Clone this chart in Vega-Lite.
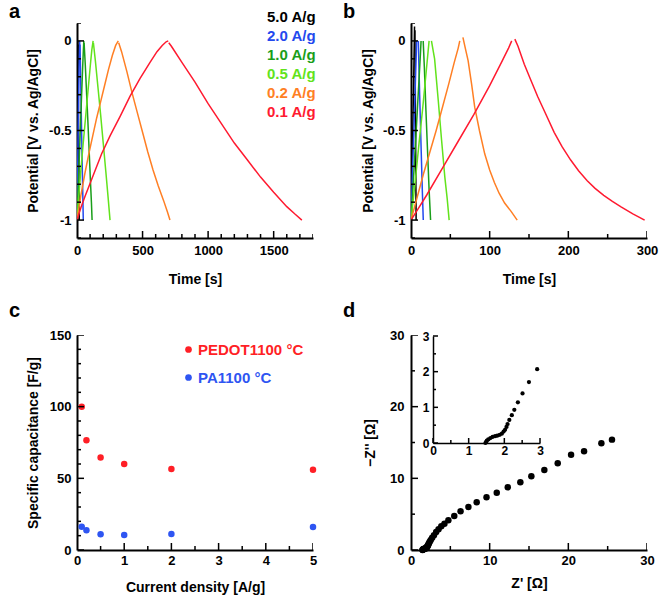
{
  "$schema": "https://vega.github.io/schema/vega-lite/v6.json",
  "padding": {"left": 9, "top": 2, "right": 5, "bottom": 5},
  "columns": 2,
  "spacing": {"row": 97, "column": 98},
  "bounds": "flush",
  "resolve": {"scale": {"color": "independent", "size": "independent"}, "legend": {"color": "independent"}},
  "config": {
    "font": "Liberation Sans",
    "view": {"stroke": null},
    "axis": {"grid": false, "zindex": 1, "domainColor": "black", "domainWidth": 2, "ticks": false, "tickSize": 0,
      "labelFont": "Liberation Sans", "labelFontSize": 13, "labelFontWeight": "bold", "labelColor": "black",
      "titleFont": "Liberation Sans", "titleFontSize": 14, "titleFontWeight": "bold", "titleColor": "black",
      "labelOverlap": false, "labelFlush": false, "labelBound": false},
    "legend": {"labelFont": "Liberation Sans", "labelFontWeight": "bold", "labelFontSize": 15, "padding": 0},
    "title": {"font": "Liberation Sans", "fontSize": 20, "fontWeight": "bold", "anchor": "start", "frame": "group", "color": "black"}
  },
  "datasets": {
    "gcdA": [
      {"r":"5.0 A/g","s":"c","t":0,"v":-1},{"r":"5.0 A/g","s":"c","t":3,"v":-0.55},{"r":"5.0 A/g","s":"c","t":6,"v":-0.05},{"r":"5.0 A/g","s":"c","t":7,"v":0},
      {"r":"5.0 A/g","s":"d","t":8,"v":-0.02},{"r":"5.0 A/g","s":"d","t":11,"v":-0.4},{"r":"5.0 A/g","s":"d","t":14,"v":-0.75},{"r":"5.0 A/g","s":"d","t":17,"v":-1},
      {"r":"2.0 A/g","s":"c","t":0,"v":-1},{"r":"2.0 A/g","s":"c","t":4,"v":-0.78},{"r":"2.0 A/g","s":"c","t":10,"v":-0.45},{"r":"2.0 A/g","s":"c","t":16,"v":-0.15},{"r":"2.0 A/g","s":"c","t":21,"v":0},
      {"r":"2.0 A/g","s":"d","t":23,"v":-0.02},{"r":"2.0 A/g","s":"d","t":29,"v":-0.25},{"r":"2.0 A/g","s":"d","t":35,"v":-0.5},{"r":"2.0 A/g","s":"d","t":41,"v":-0.74},{"r":"2.0 A/g","s":"d","t":48,"v":-1},
      {"r":"1.0 A/g","s":"c","t":0,"v":-1},{"r":"1.0 A/g","s":"c","t":5,"v":-0.9},{"r":"1.0 A/g","s":"c","t":12,"v":-0.76},{"r":"1.0 A/g","s":"c","t":22,"v":-0.56},{"r":"1.0 A/g","s":"c","t":32,"v":-0.36},{"r":"1.0 A/g","s":"c","t":42,"v":-0.17},{"r":"1.0 A/g","s":"c","t":48,"v":-0.06},{"r":"1.0 A/g","s":"c","t":52,"v":0},
      {"r":"1.0 A/g","s":"d","t":54,"v":-0.01},{"r":"1.0 A/g","s":"d","t":63,"v":-0.13},{"r":"1.0 A/g","s":"d","t":73,"v":-0.29},{"r":"1.0 A/g","s":"d","t":83,"v":-0.45},{"r":"1.0 A/g","s":"d","t":93,"v":-0.62},{"r":"1.0 A/g","s":"d","t":103,"v":-0.79},{"r":"1.0 A/g","s":"d","t":110,"v":-0.9},{"r":"1.0 A/g","s":"d","t":115,"v":-1},
      {"r":"0.5 A/g","s":"c","t":0,"v":-1},{"r":"0.5 A/g","s":"c","t":10,"v":-0.9},{"r":"0.5 A/g","s":"c","t":25,"v":-0.76},{"r":"0.5 A/g","s":"c","t":45,"v":-0.59},{"r":"0.5 A/g","s":"c","t":65,"v":-0.43},{"r":"0.5 A/g","s":"c","t":85,"v":-0.27},{"r":"0.5 A/g","s":"c","t":100,"v":-0.15},{"r":"0.5 A/g","s":"c","t":113,"v":-0.05},{"r":"0.5 A/g","s":"c","t":123,"v":0},
      {"r":"0.5 A/g","s":"d","t":125,"v":-0.01},{"r":"0.5 A/g","s":"d","t":140,"v":-0.11},{"r":"0.5 A/g","s":"d","t":160,"v":-0.26},{"r":"0.5 A/g","s":"d","t":180,"v":-0.41},{"r":"0.5 A/g","s":"d","t":200,"v":-0.57},{"r":"0.5 A/g","s":"d","t":220,"v":-0.73},{"r":"0.5 A/g","s":"d","t":238,"v":-0.88},{"r":"0.5 A/g","s":"d","t":252,"v":-1},
      {"r":"0.2 A/g","s":"c","t":0,"v":-1},{"r":"0.2 A/g","s":"c","t":15,"v":-0.93},{"r":"0.2 A/g","s":"c","t":30,"v":-0.86},{"r":"0.2 A/g","s":"c","t":60,"v":-0.74},{"r":"0.2 A/g","s":"c","t":90,"v":-0.63},{"r":"0.2 A/g","s":"c","t":120,"v":-0.53},{"r":"0.2 A/g","s":"c","t":150,"v":-0.43},{"r":"0.2 A/g","s":"c","t":180,"v":-0.34},{"r":"0.2 A/g","s":"c","t":210,"v":-0.25},{"r":"0.2 A/g","s":"c","t":240,"v":-0.16},{"r":"0.2 A/g","s":"c","t":270,"v":-0.08},{"r":"0.2 A/g","s":"c","t":295,"v":-0.025},{"r":"0.2 A/g","s":"c","t":315,"v":0},
      {"r":"0.2 A/g","s":"d","t":318,"v":-0.01},{"r":"0.2 A/g","s":"d","t":340,"v":-0.06},{"r":"0.2 A/g","s":"d","t":380,"v":-0.17},{"r":"0.2 A/g","s":"d","t":420,"v":-0.29},{"r":"0.2 A/g","s":"d","t":460,"v":-0.4},{"r":"0.2 A/g","s":"d","t":500,"v":-0.51},{"r":"0.2 A/g","s":"d","t":540,"v":-0.62},{"r":"0.2 A/g","s":"d","t":580,"v":-0.72},{"r":"0.2 A/g","s":"d","t":620,"v":-0.81},{"r":"0.2 A/g","s":"d","t":660,"v":-0.89},{"r":"0.2 A/g","s":"d","t":690,"v":-0.955},{"r":"0.2 A/g","s":"d","t":709,"v":-1},
      {"r":"0.1 A/g","s":"c","t":0,"v":-1},{"r":"0.1 A/g","s":"c","t":30,"v":-0.93},{"r":"0.1 A/g","s":"c","t":60,"v":-0.87},{"r":"0.1 A/g","s":"c","t":124,"v":-0.75},{"r":"0.1 A/g","s":"c","t":188,"v":-0.63},{"r":"0.1 A/g","s":"c","t":252,"v":-0.53},{"r":"0.1 A/g","s":"c","t":330,"v":-0.42},{"r":"0.1 A/g","s":"c","t":404,"v":-0.31},{"r":"0.1 A/g","s":"c","t":480,"v":-0.21},{"r":"0.1 A/g","s":"c","t":557,"v":-0.12},{"r":"0.1 A/g","s":"c","t":610,"v":-0.06},{"r":"0.1 A/g","s":"c","t":650,"v":-0.025},{"r":"0.1 A/g","s":"c","t":680,"v":-0.005},{"r":"0.1 A/g","s":"c","t":696,"v":0},
      {"r":"0.1 A/g","s":"d","t":700,"v":-0.01},{"r":"0.1 A/g","s":"d","t":720,"v":-0.03},{"r":"0.1 A/g","s":"d","t":800,"v":-0.12},{"r":"0.1 A/g","s":"d","t":900,"v":-0.23},{"r":"0.1 A/g","s":"d","t":1000,"v":-0.35},{"r":"0.1 A/g","s":"d","t":1100,"v":-0.46},{"r":"0.1 A/g","s":"d","t":1200,"v":-0.57},{"r":"0.1 A/g","s":"d","t":1300,"v":-0.665},{"r":"0.1 A/g","s":"d","t":1400,"v":-0.76},{"r":"0.1 A/g","s":"d","t":1500,"v":-0.845},{"r":"0.1 A/g","s":"d","t":1600,"v":-0.925},{"r":"0.1 A/g","s":"d","t":1660,"v":-0.965},{"r":"0.1 A/g","s":"d","t":1715,"v":-1}
    ],
    "gcdB": [
      {"r":"5.0 A/g","s":"c","t":0,"v":-1},{"r":"5.0 A/g","s":"c","t":2.5,"v":-0.45},{"r":"5.0 A/g","s":"c","t":4.5,"v":0.08},
      {"r":"5.0 A/g","s":"d","t":5,"v":0.06},{"r":"5.0 A/g","s":"d","t":5.8,"v":-0.5},{"r":"5.0 A/g","s":"d","t":6.5,"v":-1},
      {"r":"2.0 A/g","s":"c","t":0,"v":-1},{"r":"2.0 A/g","s":"c","t":2,"v":-0.72},{"r":"2.0 A/g","s":"c","t":4,"v":-0.45},{"r":"2.0 A/g","s":"c","t":6,"v":-0.17},{"r":"2.0 A/g","s":"c","t":7.2,"v":0},
      {"r":"2.0 A/g","s":"d","t":9.3,"v":0},{"r":"2.0 A/g","s":"d","t":11,"v":-0.3},{"r":"2.0 A/g","s":"d","t":13,"v":-0.62},{"r":"2.0 A/g","s":"d","t":14.5,"v":-0.85},{"r":"2.0 A/g","s":"d","t":15.6,"v":-1},
      {"r":"1.0 A/g","s":"c","t":0,"v":-1},{"r":"1.0 A/g","s":"c","t":3,"v":-0.78},{"r":"1.0 A/g","s":"c","t":6,"v":-0.55},{"r":"1.0 A/g","s":"c","t":9,"v":-0.31},{"r":"1.0 A/g","s":"c","t":12,"v":-0.07},{"r":"1.0 A/g","s":"c","t":12.8,"v":0},
      {"r":"1.0 A/g","s":"d","t":15.5,"v":0},{"r":"1.0 A/g","s":"d","t":17,"v":-0.15},{"r":"1.0 A/g","s":"d","t":19,"v":-0.39},{"r":"1.0 A/g","s":"d","t":21,"v":-0.61},{"r":"1.0 A/g","s":"d","t":23,"v":-0.83},{"r":"1.0 A/g","s":"d","t":24.9,"v":-1},
      {"r":"0.5 A/g","s":"c","t":0,"v":-1},{"r":"0.5 A/g","s":"c","t":5,"v":-0.8},{"r":"0.5 A/g","s":"c","t":10,"v":-0.58},{"r":"0.5 A/g","s":"c","t":15,"v":-0.37},{"r":"0.5 A/g","s":"c","t":20,"v":-0.14},{"r":"0.5 A/g","s":"c","t":23,"v":0},
      {"r":"0.5 A/g","s":"d","t":26,"v":0},{"r":"0.5 A/g","s":"d","t":30,"v":-0.1},{"r":"0.5 A/g","s":"d","t":34.6,"v":-0.33},{"r":"0.5 A/g","s":"d","t":38.8,"v":-0.55},{"r":"0.5 A/g","s":"d","t":43,"v":-0.76},{"r":"0.5 A/g","s":"d","t":46,"v":-0.88},{"r":"0.5 A/g","s":"d","t":48.5,"v":-1},
      {"r":"0.2 A/g","s":"c","t":0,"v":-1},{"r":"0.2 A/g","s":"c","t":8,"v":-0.87},{"r":"0.2 A/g","s":"c","t":16,"v":-0.74},{"r":"0.2 A/g","s":"c","t":24,"v":-0.62},{"r":"0.2 A/g","s":"c","t":32,"v":-0.5},{"r":"0.2 A/g","s":"c","t":40,"v":-0.37},{"r":"0.2 A/g","s":"c","t":48,"v":-0.24},{"r":"0.2 A/g","s":"c","t":55,"v":-0.12},{"r":"0.2 A/g","s":"c","t":60,"v":-0.04},{"r":"0.2 A/g","s":"c","t":62,"v":0},
      {"r":"0.2 A/g","s":"d","t":66,"v":0.02},{"r":"0.2 A/g","s":"d","t":69,"v":-0.04},{"r":"0.2 A/g","s":"d","t":72.6,"v":-0.11},{"r":"0.2 A/g","s":"d","t":77,"v":-0.24},{"r":"0.2 A/g","s":"d","t":81,"v":-0.37},{"r":"0.2 A/g","s":"d","t":87,"v":-0.5},{"r":"0.2 A/g","s":"d","t":93.7,"v":-0.63},{"r":"0.2 A/g","s":"d","t":100,"v":-0.72},{"r":"0.2 A/g","s":"d","t":106,"v":-0.79},{"r":"0.2 A/g","s":"d","t":112,"v":-0.85},{"r":"0.2 A/g","s":"d","t":119,"v":-0.905},{"r":"0.2 A/g","s":"d","t":127,"v":-0.95},{"r":"0.2 A/g","s":"d","t":135,"v":-1},
      {"r":"0.1 A/g","s":"c","t":0,"v":-1},{"r":"0.1 A/g","s":"c","t":10,"v":-0.93},{"r":"0.1 A/g","s":"c","t":20,"v":-0.86},{"r":"0.1 A/g","s":"c","t":40,"v":-0.71},{"r":"0.1 A/g","s":"c","t":60,"v":-0.56},{"r":"0.1 A/g","s":"c","t":80,"v":-0.41},{"r":"0.1 A/g","s":"c","t":100,"v":-0.25},{"r":"0.1 A/g","s":"c","t":115,"v":-0.12},{"r":"0.1 A/g","s":"c","t":124,"v":-0.04},{"r":"0.1 A/g","s":"c","t":128,"v":0},
      {"r":"0.1 A/g","s":"d","t":132,"v":0.01},{"r":"0.1 A/g","s":"d","t":136,"v":-0.03},{"r":"0.1 A/g","s":"d","t":144,"v":-0.13},{"r":"0.1 A/g","s":"d","t":152,"v":-0.215},{"r":"0.1 A/g","s":"d","t":161,"v":-0.31},{"r":"0.1 A/g","s":"d","t":171,"v":-0.405},{"r":"0.1 A/g","s":"d","t":182,"v":-0.51},{"r":"0.1 A/g","s":"d","t":192,"v":-0.59},{"r":"0.1 A/g","s":"d","t":203,"v":-0.665},{"r":"0.1 A/g","s":"d","t":213,"v":-0.725},{"r":"0.1 A/g","s":"d","t":224,"v":-0.78},{"r":"0.1 A/g","s":"d","t":234,"v":-0.823},{"r":"0.1 A/g","s":"d","t":245,"v":-0.862},{"r":"0.1 A/g","s":"d","t":256,"v":-0.895},{"r":"0.1 A/g","s":"d","t":267,"v":-0.926},{"r":"0.1 A/g","s":"d","t":282,"v":-0.965},{"r":"0.1 A/g","s":"d","t":297,"v":-1}
    ],
    "cap": [
      {"m":"PEDOT1100 °C","j":0.1,"c":100},{"m":"PEDOT1100 °C","j":0.2,"c":76.5},{"m":"PEDOT1100 °C","j":0.5,"c":64.5},{"m":"PEDOT1100 °C","j":1,"c":60},{"m":"PEDOT1100 °C","j":2,"c":56.5},{"m":"PEDOT1100 °C","j":5,"c":56},
      {"m":"PA1100 °C","j":0.1,"c":16.2},{"m":"PA1100 °C","j":0.2,"c":13.8},{"m":"PA1100 °C","j":0.5,"c":11},{"m":"PA1100 °C","j":1,"c":10.5},{"m":"PA1100 °C","j":2,"c":11.2},{"m":"PA1100 °C","j":5,"c":16}
    ],
    "eis": [
      {"zr":1.47,"zi":0.0},{"zr":1.49,"zi":0.03},{"zr":1.51,"zi":0.065},{"zr":1.55,"zi":0.1},{"zr":1.61,"zi":0.14},{"zr":1.67,"zi":0.17},{"zr":1.74,"zi":0.19},{"zr":1.8,"zi":0.205},{"zr":1.87,"zi":0.23},{"zr":1.93,"zi":0.26},{"zr":1.98,"zi":0.32},{"zr":2.02,"zi":0.37},{"zr":2.06,"zi":0.45},{"zr":2.09,"zi":0.53},{"zr":2.14,"zi":0.645},{"zr":2.21,"zi":0.78},{"zr":2.28,"zi":0.93},{"zr":2.38,"zi":1.14},{"zr":2.51,"zi":1.39},{"zr":2.69,"zi":1.71},{"zr":2.92,"zi":2.07},
      {"zr":3.2,"zi":2.5},{"zr":3.5,"zi":2.9},{"zr":3.85,"zi":3.3},{"zr":4.25,"zi":3.65},{"zr":4.75,"zi":4.15},{"zr":5.5,"zi":4.75},{"zr":6.3,"zi":5.4},{"zr":7.3,"zi":6.0},{"zr":8.35,"zi":6.65},{"zr":9.6,"zi":7.35},{"zr":10.9,"zi":8.0},{"zr":12.3,"zi":8.75},{"zr":13.9,"zi":9.45},{"zr":15.3,"zi":10.3},{"zr":16.95,"zi":11.15},{"zr":18.65,"zi":12.12},{"zr":20.35,"zi":13.3},{"zr":22.0,"zi":13.77},{"zr":24.2,"zi":14.9},{"zr":25.55,"zi":15.4}
    ],
    "ticksA": [
      {"ax":"x","v":0,"k":"M"},{"ax":"x","v":100,"k":"m"},{"ax":"x","v":200,"k":"m"},{"ax":"x","v":300,"k":"m"},{"ax":"x","v":400,"k":"m"},{"ax":"x","v":500,"k":"M"},{"ax":"x","v":600,"k":"m"},{"ax":"x","v":700,"k":"m"},{"ax":"x","v":800,"k":"m"},{"ax":"x","v":900,"k":"m"},{"ax":"x","v":1000,"k":"M"},{"ax":"x","v":1100,"k":"m"},{"ax":"x","v":1200,"k":"m"},{"ax":"x","v":1300,"k":"m"},{"ax":"x","v":1400,"k":"m"},{"ax":"x","v":1500,"k":"M"},{"ax":"x","v":1600,"k":"m"},{"ax":"x","v":1700,"k":"m"},{"ax":"x","v":1800,"k":"m"},
      {"ax":"y","v":-1.1,"k":"m"},{"ax":"y","v":-1,"k":"M"},{"ax":"y","v":-0.9,"k":"m"},{"ax":"y","v":-0.8,"k":"m"},{"ax":"y","v":-0.7,"k":"m"},{"ax":"y","v":-0.6,"k":"m"},{"ax":"y","v":-0.5,"k":"M"},{"ax":"y","v":-0.4,"k":"m"},{"ax":"y","v":-0.3,"k":"m"},{"ax":"y","v":-0.2,"k":"m"},{"ax":"y","v":-0.1,"k":"m"},{"ax":"y","v":0,"k":"M"},{"ax":"y","v":0.1,"k":"m"}
    ],
    "ticksB": [
      {"ax":"x","v":0,"k":"M"},{"ax":"x","v":50,"k":"m"},{"ax":"x","v":100,"k":"M"},{"ax":"x","v":150,"k":"m"},{"ax":"x","v":200,"k":"M"},{"ax":"x","v":250,"k":"m"},{"ax":"x","v":300,"k":"M"},
      {"ax":"y","v":-1.1,"k":"m"},{"ax":"y","v":-1,"k":"M"},{"ax":"y","v":-0.9,"k":"m"},{"ax":"y","v":-0.8,"k":"m"},{"ax":"y","v":-0.7,"k":"m"},{"ax":"y","v":-0.6,"k":"m"},{"ax":"y","v":-0.5,"k":"M"},{"ax":"y","v":-0.4,"k":"m"},{"ax":"y","v":-0.3,"k":"m"},{"ax":"y","v":-0.2,"k":"m"},{"ax":"y","v":-0.1,"k":"m"},{"ax":"y","v":0,"k":"M"},{"ax":"y","v":0.1,"k":"m"}
    ],
    "ticksC": [
      {"ax":"x","v":0,"k":"M"},{"ax":"x","v":0.5,"k":"m"},{"ax":"x","v":1,"k":"M"},{"ax":"x","v":1.5,"k":"m"},{"ax":"x","v":2,"k":"M"},{"ax":"x","v":2.5,"k":"m"},{"ax":"x","v":3,"k":"M"},{"ax":"x","v":3.5,"k":"m"},{"ax":"x","v":4,"k":"M"},{"ax":"x","v":4.5,"k":"m"},{"ax":"x","v":5,"k":"M"},
      {"ax":"y","v":0,"k":"M"},{"ax":"y","v":10,"k":"m"},{"ax":"y","v":20,"k":"m"},{"ax":"y","v":30,"k":"m"},{"ax":"y","v":40,"k":"m"},{"ax":"y","v":50,"k":"M"},{"ax":"y","v":60,"k":"m"},{"ax":"y","v":70,"k":"m"},{"ax":"y","v":80,"k":"m"},{"ax":"y","v":90,"k":"m"},{"ax":"y","v":100,"k":"M"},{"ax":"y","v":110,"k":"m"},{"ax":"y","v":120,"k":"m"},{"ax":"y","v":130,"k":"m"},{"ax":"y","v":140,"k":"m"},{"ax":"y","v":150,"k":"M"}
    ],
    "ticksD": [
      {"ax":"x","v":0,"k":"M"},{"ax":"x","v":5,"k":"m"},{"ax":"x","v":10,"k":"M"},{"ax":"x","v":15,"k":"m"},{"ax":"x","v":20,"k":"M"},{"ax":"x","v":25,"k":"m"},{"ax":"x","v":30,"k":"M"},
      {"ax":"y","v":0,"k":"M"},{"ax":"y","v":5,"k":"m"},{"ax":"y","v":10,"k":"M"},{"ax":"y","v":15,"k":"m"},{"ax":"y","v":20,"k":"M"},{"ax":"y","v":25,"k":"m"},{"ax":"y","v":30,"k":"M"},
      {"ax":"i","v":0,"k":"M"},{"ax":"i","v":0.5,"k":"m"},{"ax":"i","v":1,"k":"M"},{"ax":"i","v":1.5,"k":"m"},{"ax":"i","v":2,"k":"M"},{"ax":"i","v":2.5,"k":"m"},{"ax":"i","v":3,"k":"M"}
    ]
  },
  "concat": [
    {
      "width": 236, "height": 215,
      "title": {"text": "a", "dx": -68, "offset": -13},
      "layer": [
        {
          "data": {"name": "gcdA"},
          "mark": {"type": "line", "strokeWidth": 1.5, "clip": true},
          "encoding": {
            "x": {"field": "t", "type": "quantitative", "scale": {"domain": [0, 1800], "nice": false, "zero": false},
              "axis": {"title": "Time [s]", "values": [0,500,1000,1500], "labelExpr": "toString(datum.value)", "labelPadding": 6, "titleY": 34}},
            "y": {"field": "v", "type": "quantitative", "scale": {"domain": [-1.1, 0.1], "nice": false, "zero": false},
              "axis": {"title": "Potential [V vs. Ag/AgCl]", "values": [-1,-0.5,0], "labelExpr": "toString(datum.value)", "labelPadding": 6, "titleX": -37}},
            "color": {"field": "r", "type": "nominal",
              "scale": {"domain": ["5.0 A/g","2.0 A/g","1.0 A/g","0.5 A/g","0.2 A/g","0.1 A/g"], "range": ["#000000","#2349ee","#1a9e1a","#62e31c","#ff7f24","#ff1a30"]},
              "legend": {"orient": "none", "legendX": 175, "legendY": -14, "title": null, "symbolSize": 0, "symbolOpacity": 0, "symbolStrokeWidth": 0, "labelOffset": 0, "rowPadding": 3, "labelFontSize": 15,
                "encode": {"labels": {"update": {"fill": {"signal": "datum.value === '5.0 A/g' ? '#000000' : datum.value === '2.0 A/g' ? '#2349ee' : datum.value === '1.0 A/g' ? '#1a9e1a' : datum.value === '0.5 A/g' ? '#62e31c' : datum.value === '0.2 A/g' ? '#ff7f24' : '#ff1a30'"}}}}}},
            "detail": {"field": "s", "type": "nominal"}
          }
        },
        {
          "data": {"name": "ticksA"},
          "transform": [{"filter": "datum.ax === 'x'"}],
          "mark": {"type": "tick", "orient": "vertical", "thickness": 1.5, "color": "black", "opacity": 1, "clip": true},
          "encoding": {
            "x": {"field": "v", "type": "quantitative"},
            "y": {"datum": -1.1, "type": "quantitative"},
            "size": {"field": "k", "type": "ordinal", "scale": {"domain": ["M","m"], "range": [14, 8]}, "legend": null}
          }
        },
        {
          "data": {"name": "ticksA"},
          "transform": [{"filter": "datum.ax === 'y'"}],
          "mark": {"type": "tick", "orient": "horizontal", "thickness": 1.5, "color": "black", "opacity": 1, "clip": true},
          "encoding": {
            "y": {"field": "v", "type": "quantitative"},
            "x": {"datum": 0, "type": "quantitative"},
            "size": {"field": "k", "type": "ordinal", "scale": {"domain": ["M","m"], "range": [14, 8]}, "legend": null}
          }
        }
      ]
    },
    {
      "width": 236, "height": 215,
      "title": {"text": "b", "dx": -68, "offset": 1},
      "layer": [
        {
          "data": {"name": "gcdB"},
          "mark": {"type": "line", "strokeWidth": 1.5, "clip": true},
          "encoding": {
            "x": {"field": "t", "type": "quantitative", "scale": {"domain": [0, 300], "nice": false, "zero": false},
              "axis": {"title": "Time [s]", "values": [0,100,200,300], "labelExpr": "toString(datum.value)", "labelPadding": 6, "titleY": 34}},
            "y": {"field": "v", "type": "quantitative", "scale": {"domain": [-1.1, 0.1], "nice": false, "zero": false},
              "axis": {"title": "Potential [V vs. Ag/AgCl]", "values": [-1,-0.5,0], "labelExpr": "toString(datum.value)", "labelPadding": 6, "titleX": -36}},
            "color": {"field": "r", "type": "nominal",
              "scale": {"domain": ["5.0 A/g","2.0 A/g","1.0 A/g","0.5 A/g","0.2 A/g","0.1 A/g"], "range": ["#000000","#2349ee","#1a9e1a","#62e31c","#ff7f24","#ff1a30"]},
              "legend": null},
            "detail": {"field": "s", "type": "nominal"}
          }
        },
        {
          "data": {"name": "ticksB"},
          "transform": [{"filter": "datum.ax === 'x'"}],
          "mark": {"type": "tick", "orient": "vertical", "thickness": 1.5, "color": "black", "opacity": 1, "clip": true},
          "encoding": {
            "x": {"field": "v", "type": "quantitative"},
            "y": {"datum": -1.1, "type": "quantitative"},
            "size": {"field": "k", "type": "ordinal", "scale": {"domain": ["M","m"], "range": [14, 8]}, "legend": null}
          }
        },
        {
          "data": {"name": "ticksB"},
          "transform": [{"filter": "datum.ax === 'y'"}],
          "mark": {"type": "tick", "orient": "horizontal", "thickness": 1.5, "color": "black", "opacity": 1, "clip": true},
          "encoding": {
            "y": {"field": "v", "type": "quantitative"},
            "x": {"datum": 0, "type": "quantitative"},
            "size": {"field": "k", "type": "ordinal", "scale": {"domain": ["M","m"], "range": [14, 8]}, "legend": null}
          }
        }
      ]
    },
    {
      "width": 236, "height": 215,
      "title": {"text": "c", "dx": -68, "offset": 8},
      "layer": [
        {
          "data": {"name": "cap"},
          "mark": {"type": "circle", "size": 42, "opacity": 1},
          "encoding": {
            "x": {"field": "j", "type": "quantitative", "scale": {"domain": [0, 5], "nice": false},
              "axis": {"title": "Current density [A/g]", "values": [0,1,2,3,4,5], "labelExpr": "toString(datum.value)", "labelPadding": 4, "titleY": 30}},
            "y": {"field": "c", "type": "quantitative", "scale": {"domain": [0, 150], "nice": false},
              "axis": {"title": "Specific capacitance [F/g]", "values": [0,50,100,150], "labelExpr": "toString(datum.value)", "labelPadding": 6, "titleX": -37}},
            "color": {"field": "m", "type": "nominal",
              "scale": {"domain": ["PEDOT1100 °C", "PA1100 °C"], "range": ["#ff1f26", "#2e55f2"]},
              "legend": {"orient": "none", "legendX": 104, "legendY": 7, "title": null, "symbolType": "circle", "symbolSize": 45, "symbolOpacity": 1, "symbolStrokeWidth": 0, "labelOffset": 2, "rowPadding": 12, "labelFontSize": 15,
                "encode": {"labels": {"update": {"fill": {"signal": "datum.value === 'PEDOT1100 °C' ? '#ff1f26' : '#2e55f2'"}}}}}}
          }
        },
        {
          "data": {"name": "ticksC"},
          "transform": [{"filter": "datum.ax === 'x'"}],
          "mark": {"type": "tick", "orient": "vertical", "thickness": 1.5, "color": "black", "opacity": 1, "clip": true},
          "encoding": {
            "x": {"field": "v", "type": "quantitative"},
            "y": {"datum": 0, "type": "quantitative"},
            "size": {"field": "k", "type": "ordinal", "scale": {"domain": ["M","m"], "range": [14, 8]}, "legend": null}
          }
        },
        {
          "data": {"name": "ticksC"},
          "transform": [{"filter": "datum.ax === 'y'"}],
          "mark": {"type": "tick", "orient": "horizontal", "thickness": 1.5, "color": "black", "opacity": 1, "clip": true},
          "encoding": {
            "y": {"field": "v", "type": "quantitative"},
            "x": {"datum": 0, "type": "quantitative"},
            "size": {"field": "k", "type": "ordinal", "scale": {"domain": ["M","m"], "range": [14, 8]}, "legend": null}
          }
        }
      ]
    },
    {
      "width": 236, "height": 215,
      "title": {"text": "d", "dx": -68, "offset": 8},
      "resolve": {"scale": {"x": "independent", "y": "independent"}},
      "layer": [
        {
          "data": {"name": "eis"},
          "mark": {"type": "circle", "size": 42, "color": "black", "opacity": 1},
          "encoding": {
            "x": {"field": "zr", "type": "quantitative", "scale": {"domain": [0, 30], "nice": false},
              "axis": {"title": "Z' [Ω]", "orient": "bottom", "values": [0,10,20,30], "labelExpr": "toString(datum.value)", "labelPadding": 4, "titleY": 26}},
            "y": {"field": "zi", "type": "quantitative", "scale": {"domain": [0, 30], "nice": false},
              "axis": {"title": "−Z'' [Ω]", "orient": "left", "values": [0,10,20,30], "labelExpr": "toString(datum.value)", "labelPadding": 7, "titleX": -34}}
          }
        },
        {
          "data": {"name": "eis"},
          "transform": [{"filter": "datum.zr <= 3.05"}],
          "mark": {"type": "circle", "size": 18, "color": "black", "opacity": 1},
          "encoding": {
            "x": {"field": "zr", "type": "quantitative", "scale": {"domain": [0, 3], "nice": false, "range": [22, 129]},
              "axis": {"title": null, "orient": "bottom", "offset": -107, "values": [0,1,2,3], "domainWidth": 1.5, "labelFontSize": 12, "labelExpr": "toString(datum.value)", "labelPadding": 2}},
            "y": {"field": "zi", "type": "quantitative", "scale": {"domain": [0, 3], "nice": false, "range": [108, 1]},
              "axis": {"title": null, "orient": "left", "offset": -22, "values": [0,1,2,3], "domainWidth": 1.5, "labelFontSize": 12, "labelExpr": "toString(datum.value)", "labelPadding": 4}}
          }
        },
        {
          "data": {"name": "ticksD"},
          "transform": [{"filter": "datum.ax === 'x'"}],
          "mark": {"type": "tick", "orient": "vertical", "thickness": 1.5, "color": "black", "opacity": 1, "clip": true},
          "encoding": {
            "x": {"field": "v", "type": "quantitative", "scale": {"domain": [0, 30], "nice": false}, "axis": null},
            "y": {"datum": 0, "type": "quantitative", "scale": {"domain": [0, 30], "nice": false}, "axis": null},
            "size": {"field": "k", "type": "ordinal", "scale": {"domain": ["M","m"], "range": [14, 8]}, "legend": null}
          }
        },
        {
          "data": {"name": "ticksD"},
          "transform": [{"filter": "datum.ax === 'y'"}],
          "mark": {"type": "tick", "orient": "horizontal", "thickness": 1.5, "color": "black", "opacity": 1, "clip": true},
          "encoding": {
            "y": {"field": "v", "type": "quantitative", "scale": {"domain": [0, 30], "nice": false}, "axis": null},
            "x": {"datum": 0, "type": "quantitative", "scale": {"domain": [0, 30], "nice": false}, "axis": null},
            "size": {"field": "k", "type": "ordinal", "scale": {"domain": ["M","m"], "range": [14, 8]}, "legend": null}
          }
        },
        {
          "data": {"name": "ticksD"},
          "transform": [{"filter": "datum.ax === 'i' && datum.k === 'M'"}],
          "mark": {"type": "rule", "strokeWidth": 1.5, "color": "black"},
          "encoding": {
            "x": {"field": "v", "type": "quantitative", "scale": {"domain": [0, 3], "nice": false, "range": [22, 129]}, "axis": null},
            "y": {"datum": 0, "type": "quantitative", "scale": {"domain": [0, 3], "nice": false, "range": [108, 1]}, "axis": null},
            "y2": {"datum": 0.14}
          }
        },
        {
          "data": {"name": "ticksD"},
          "transform": [{"filter": "datum.ax === 'i' && datum.k === 'm'"}],
          "mark": {"type": "rule", "strokeWidth": 1.5, "color": "black"},
          "encoding": {
            "x": {"field": "v", "type": "quantitative", "scale": {"domain": [0, 3], "nice": false, "range": [22, 129]}, "axis": null},
            "y": {"datum": 0, "type": "quantitative", "scale": {"domain": [0, 3], "nice": false, "range": [108, 1]}, "axis": null},
            "y2": {"datum": 0.085}
          }
        },
        {
          "data": {"name": "ticksD"},
          "transform": [{"filter": "datum.ax === 'i' && datum.k === 'M'"}],
          "mark": {"type": "rule", "strokeWidth": 1.5, "color": "black"},
          "encoding": {
            "y": {"field": "v", "type": "quantitative", "scale": {"domain": [0, 3], "nice": false, "range": [108, 1]}, "axis": null},
            "x": {"datum": 0, "type": "quantitative", "scale": {"domain": [0, 3], "nice": false, "range": [22, 129]}, "axis": null},
            "x2": {"datum": 0.14}
          }
        },
        {
          "data": {"name": "ticksD"},
          "transform": [{"filter": "datum.ax === 'i' && datum.k === 'm'"}],
          "mark": {"type": "rule", "strokeWidth": 1.5, "color": "black"},
          "encoding": {
            "y": {"field": "v", "type": "quantitative", "scale": {"domain": [0, 3], "nice": false, "range": [108, 1]}, "axis": null},
            "x": {"datum": 0, "type": "quantitative", "scale": {"domain": [0, 3], "nice": false, "range": [22, 129]}, "axis": null},
            "x2": {"datum": 0.085}
          }
        }
      ]
    }
  ]
}
